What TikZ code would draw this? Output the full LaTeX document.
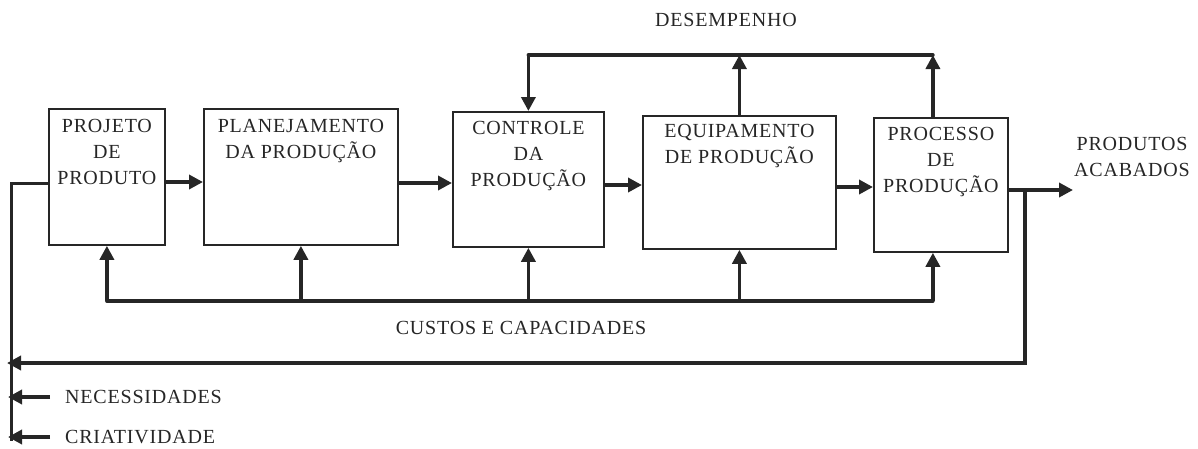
\documentclass[tikz,border=0pt]{standalone}
\usepackage{fontspec}
\setmainfont{Liberation Serif}[LetterSpace=4]
\usetikzlibrary{arrows.meta}
\begin{document}
\begin{tikzpicture}[x=1pt,y=-1pt,
  box/.style={draw=black!85, line width=1.8pt, anchor=north west, inner sep=0pt},
  txt/.style={font=\fontsize{20}{26}\selectfont, text=black!85, align=center, inner sep=0pt},
  wire/.style={draw=black!85, line width=3.6pt},
  arr/.style={wire, -{Triangle[length=14pt,width=14pt]}},
  ]
\useasboundingbox (0,0) rectangle (1198,448);
% boxes
\node[box, minimum width=116pt, minimum height=136pt] (b1) at (48,108) {};
\node[box, minimum width=194pt, minimum height=136pt] (b2) at (203,108) {};
\node[box, minimum width=151pt, minimum height=135pt] (b3) at (452,111) {};
\node[box, minimum width=193pt, minimum height=133pt] (b4) at (642,115) {};
\node[box, minimum width=134pt, minimum height=134pt] (b5) at (873,117) {};
% box texts
\node[txt, anchor=north] (t1) at ([yshift=-11pt]b1.north) {PROJETO\\DE\\PRODUTO};
\node[txt, anchor=north] (t2) at ([yshift=-11pt]b2.north) {PLANEJAMENTO\\DA PRODUÇÃO};
\node[txt, anchor=north] (t3) at ([yshift=-10pt]b3.north) {CONTROLE\\DA\\PRODUÇÃO};
\node[txt, anchor=north] (t4) at ([yshift=-9pt]b4.north) {EQUIPAMENTO\\DE PRODUÇÃO};
\node[txt, anchor=north] (t5) at ([yshift=-10pt]b5.north) {PROCESSO\\DE\\PRODUÇÃO};
% other texts
\node[txt] (des) at (726,20) {DESEMPENHO};
\node[txt] (pa) at (1132,157) {PRODUTOS\\ACABADOS};
\node[txt] (cus) at (521,328) {CUSTOS E CAPACIDADES};
\node[txt, anchor=west] (nec) at (65,397) {NECESSIDADES};
\node[txt, anchor=west] (cri) at (65,437) {CRIATIVIDADE};
% coordinates
\coordinate (top) at (0,55);
\coordinate (bus) at (0,301);
\coordinate (fbk) at (1025,190);
\coordinate (lv) at (11,0);
\coordinate (outp) at (1073,190);
% main chain
\draw[arr] (b1.east |- 0,182) -- (b2.west |- 0,182);
\draw[arr] (b2.east |- 0,183) -- (b3.west |- 0,183);
\draw[arr] (b3.east |- 0,185) -- (b4.west |- 0,185);
\draw[arr] (b4.east |- 0,187) -- (b5.west |- 0,187);
\draw[arr] (b5.east |- fbk) -- (outp);
% desempenho loop
\draw[arr] (b4.north) -- (b4.north |- top);
\draw[arr] ([xshift=-8pt]b5.north) -- ([xshift=-8pt]b5.north |- top);
\draw[wire, line cap=round] ([xshift=-8pt]b5.north |- top) -- (b3.north |- top);
\draw[arr] (b3.north |- top) -- (b3.north);
% custos bus
\draw[wire, line cap=round] (b1.south |- bus) -- ([xshift=-8pt]b5.south |- bus);
\draw[arr] (b1.south |- bus) -- (b1.south);
\draw[arr] (b2.south |- bus) -- (b2.south);
\draw[arr] (b3.south |- bus) -- (b3.south);
\draw[arr] (b4.south |- bus) -- (b4.south);
\draw[arr] ([xshift=-8pt]b5.south |- bus) -- ([xshift=-8pt]b5.south);
% feedback of products
\draw[arr] (fbk) |- ([xshift=-4pt]lv |- 0,363);
% left input line
\draw[wire, line width=3pt] (b1.west |- 0,183) -| (lv |- 0,441);
\draw[arr] ([xshift=-15pt]nec.west) -- ([xshift=-3pt]lv |- nec.west);
\draw[arr] ([xshift=-15pt]cri.west) -- ([xshift=-3pt]lv |- cri.west);
\end{tikzpicture}
\end{document}
